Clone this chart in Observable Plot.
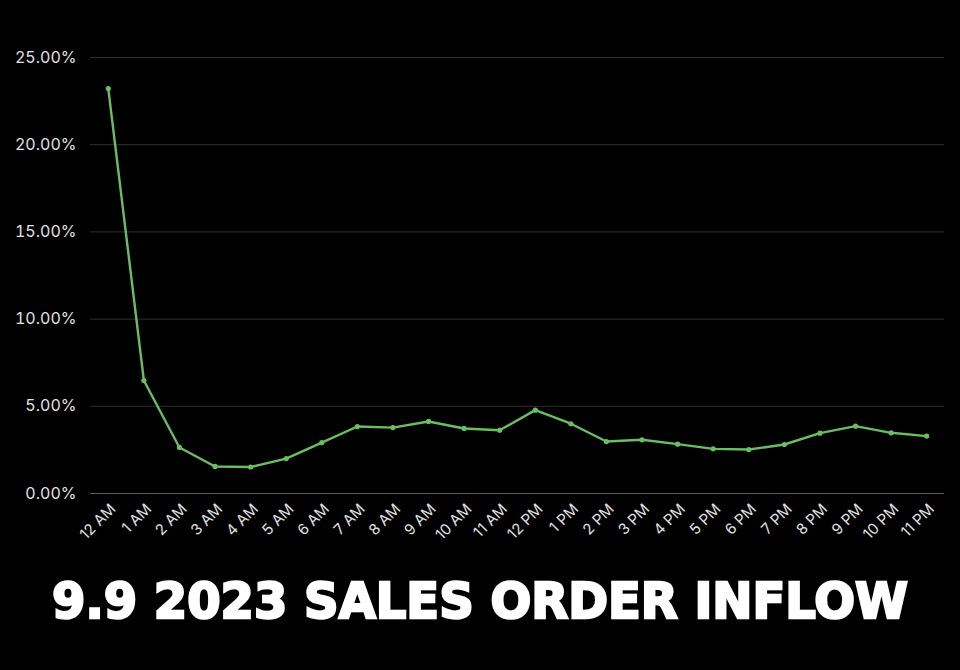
<!DOCTYPE html>
<html>
<head>
<meta charset="utf-8">
<script src="https://cdn.jsdelivr.net/npm/d3@7"></script>
<script src="https://cdn.jsdelivr.net/npm/@observablehq/plot@0.6"></script>
<style>
  html, body { margin: 0; padding: 0; background: #000; }
  body { width: 960px; height: 670px; overflow: hidden; }
  #chart svg { display: block; background: #000; }
  #title {
    color: #fff;
    font-family: "DejaVu Sans", sans-serif;
    font-weight: 900;
    font-size: 50px;
    letter-spacing: 0px;
    white-space: nowrap;
    text-align: center;
    margin-top: 22px;
    transform: scaleX(0.96);
    -webkit-text-stroke: 2.5px #fff;
  }
</style>
</head>
<body>
<div id="chart"></div>
<div id="title">9.9 2023 SALES ORDER INFLOW</div>
<script>
const hours = ["12 AM","1 AM","2 AM","3 AM","4 AM","5 AM","6 AM","7 AM","8 AM","9 AM","10 AM","11 AM",
               "12 PM","1 PM","2 PM","3 PM","4 PM","5 PM","6 PM","7 PM","8 PM","9 PM","10 PM","11 PM"];
const shares = [23.22, 6.48, 2.64, 1.55, 1.52, 2.0, 2.92, 3.84, 3.78, 4.13, 3.73, 3.63,
                4.78, 4.0, 2.98, 3.08, 2.83, 2.56, 2.52, 2.81, 3.46, 3.86, 3.48, 3.29];
const yTicks = [0, 5, 10, 15, 20, 25];

const data = hours.map((h, i) => ({hour: h, share: shares[i]}));

const chart = Plot.plot({
  width: 960,
  height: 550,
  marginTop: 57,
  marginBottom: 57,
  marginLeft: 90,
  marginRight: 16,
  style: {background: "#000", color: "#e0e0e0", fontFamily: "Inter, 'Open Sans', sans-serif"},
  x: {type: "point", domain: hours, padding: 0.5, round: false, label: null},
  y: {domain: [0, 25], label: null},
  marks: [
    Plot.ruleY(yTicks.filter(d => d > 0), {stroke: "#2f2f2f", strokeWidth: 1}),
    Plot.ruleY([0], {stroke: "#5a5a5a", strokeWidth: 1.2}),
    Plot.axisY(yTicks, {
      tickSize: 0, tickPadding: 14, fontSize: 16, fill: "#e0e0e0",
      tickFormat: d => d.toFixed(2) + "%", label: null
    }),
    Plot.axisX({
      tickSize: 0, tickRotate: -45, tickPadding: 10, fontSize: 15, fill: "#e0e0e0", label: null,
      dx: 5, dy: 3
    }),
    Plot.line(data, {x: "hour", y: "share", stroke: "#6bbd63", strokeWidth: 2.4}),
    Plot.dot(data, {x: "hour", y: "share", fill: "#6bbd63", r: 2.6})
  ]
});
document.getElementById("chart").appendChild(chart);
</script>
</body>
</html>
